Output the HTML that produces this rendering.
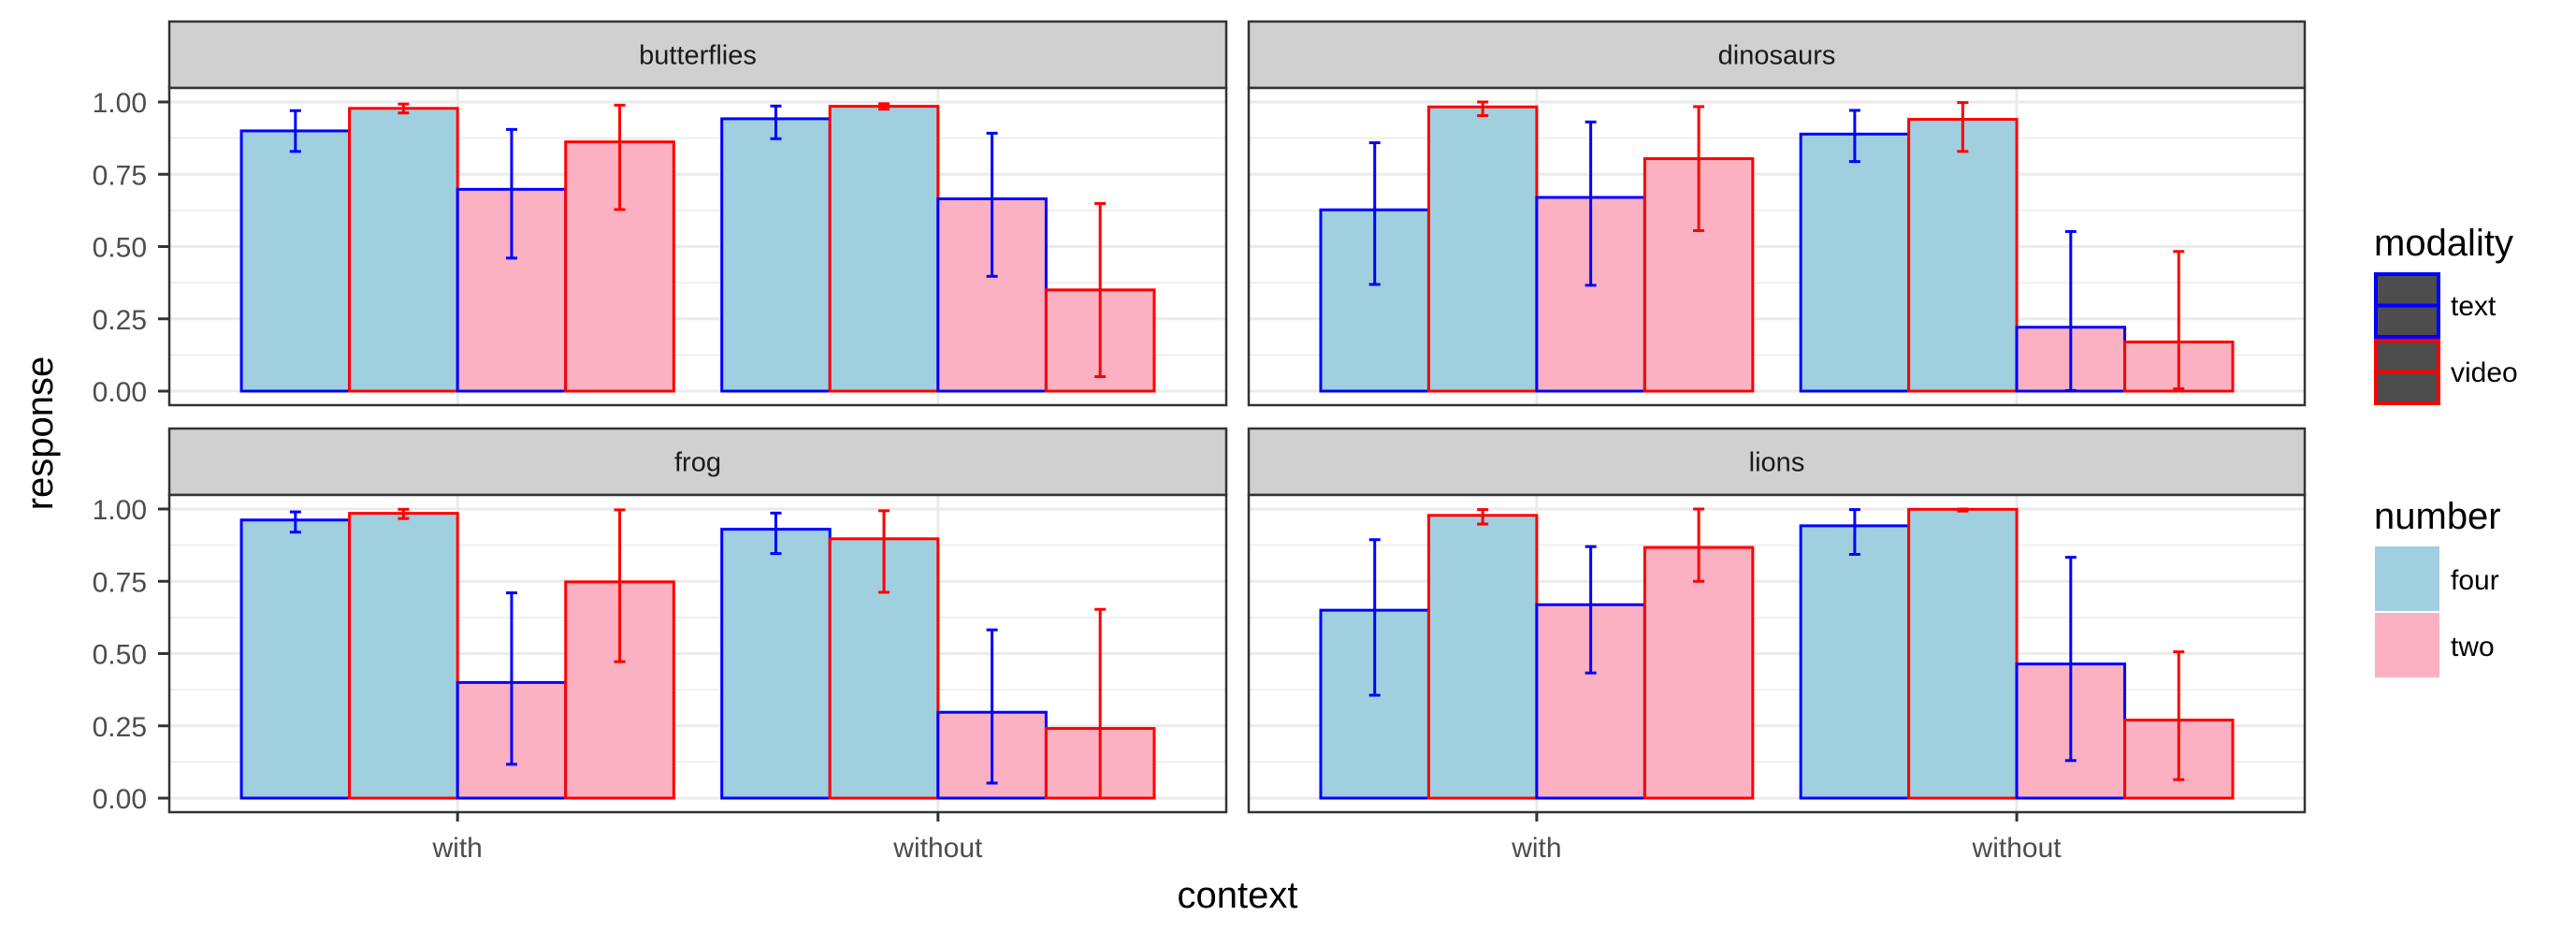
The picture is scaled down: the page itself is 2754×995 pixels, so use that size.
<!DOCTYPE html>
<html><head><meta charset="utf-8"><style>
html,body{margin:0;padding:0;background:#fff;}
svg{display:block;font-family:"Liberation Sans",sans-serif;}
</style></head><body>
<svg id="chart" width="2754" height="995" viewBox="0 0 2754 995" xmlns="http://www.w3.org/2000/svg"></svg>
<script>
const panels = ["butterflies","dinosaurs","frog","lions"];
const contexts = ["with","without"];
const barGroups = ["four-text","four-video","two-text","two-video"];
const barFill = ["four","four","two","two"];
const barColor = ["text","video","text","video"];
// values per panel: [with x4, without x4]
const butterfliesVals = [0.90,0.978,0.698,0.862, 0.942,0.985,0.665,0.35];
const butterfliesLo   = [0.829,0.962,0.46,0.628, 0.873,0.975,0.397,0.05];
const butterfliesHi   = [0.97,0.993,0.905,0.989, 0.986,0.994,0.892,0.649];
const dinosaursVals = [0.627,0.983,0.670,0.804, 0.889,0.940,0.221,0.170];
const dinosaursLo   = [0.369,0.953,0.366,0.555, 0.794,0.829,0.002,0.008];
const dinosaursHi   = [0.859,1.0,0.931,0.984, 0.971,0.998,0.552,0.483];
const frogVals = [0.962,0.985,0.40,0.748, 0.930,0.897,0.297,0.241];
const frogLo   = [0.920,0.967,0.117,0.472, 0.846,0.712,0.052,0.0];
const frogHi   = [0.990,0.999,0.710,0.997, 0.986,0.994,0.582,0.653];
const lionsVals = [0.650,0.978,0.669,0.867, 0.942,0.999,0.464,0.270];
const lionsLo   = [0.356,0.948,0.433,0.750, 0.843,0.993,0.130,0.064];
const lionsHi   = [0.894,0.998,0.870,1.0, 0.998,1.0,0.833,0.506];
const yTicks = [0,0.25,0.5,0.75,1.0];
const yTickLabels = ["0.00","0.25","0.50","0.75","1.00"];

const allVals = {butterflies:butterfliesVals,dinosaurs:dinosaursVals,frog:frogVals,lions:lionsVals};
const allLo = {butterflies:butterfliesLo,dinosaurs:dinosaursLo,frog:frogLo,lions:lionsLo};
const allHi = {butterflies:butterfliesHi,dinosaurs:dinosaursHi,frog:frogHi,lions:lionsHi};

const NS="http://www.w3.org/2000/svg";
const svg=document.getElementById('chart');
function mk(tag,attrs,parent){const e=document.createElementNS(NS,tag);for(const k in attrs)e.setAttribute(k,attrs[k]);(parent||svg).appendChild(e);return e;}
const FILL={four:"#A0CFE0",two:"#FBB1C1"};
const COL={text:"#0000FF",video:"#FF0000"};
const layout=[{x0:181,x1:1311,top:23,row:0},{x0:1335,x1:2464,top:23,row:0},{x0:181,x1:1311,top:458,row:1},{x0:1335,x1:2464,top:458,row:1}];
const stripH=71, panelH=339;

panels.forEach((name,pi)=>{
  const L=layout[pi];
  const pTop=L.top+stripH, pBot=pTop+panelH;
  const y0=pBot-15, y1=pTop+15;
  const yS=v=>y0-(y0-y1)*v;
  const unit=(L.x1-L.x0)/2.2;
  const xS=i=>L.x0+unit*(0.6+i); // group centre
  const g=mk('g',{});
  
  
  // strip
  const s=mk('rect',{x:L.x0,y:L.top,width:L.x1-L.x0,height:stripH,fill:"#D0D0D0",stroke:"#333",'stroke-width':2.5},g);
  
  
  const st=mk('text',{x:(L.x0+L.x1)/2,y:L.top+stripH/2+10,'text-anchor':'middle','font-size':29,fill:'#1A1A1A'},g);
  st.textContent=name;
  
  
  mk('rect',{x:L.x0,y:pTop,width:L.x1-L.x0,height:panelH,fill:"#fff"},g);
  // grid
  for(let k=0;k<4;k++){const v=0.125+0.25*k;mk('line',{x1:L.x0,x2:L.x1,y1:yS(v),y2:yS(v),stroke:"#EBEBEB",'stroke-width':1.5},g);}
  yTicks.forEach(v=>mk('line',{x1:L.x0,x2:L.x1,y1:yS(v),y2:yS(v),stroke:"#EBEBEB",'stroke-width':3},g));
  contexts.forEach((c,ci)=>mk('line',{x1:xS(ci),x2:xS(ci),y1:pTop,y2:pBot,stroke:"#EBEBEB",'stroke-width':3},g));
  // bars
  const vals=allVals[name],lo=allLo[name],hi=allHi[name];
  const bw=unit*0.225;
  contexts.forEach((c,ci)=>{
    barGroups.forEach((b,bi)=>{
      const idx=ci*4+bi;
      const bx=xS(ci)-2*bw+bi*bw;
      const r=mk('rect',{x:bx,y:yS(vals[idx]),width:bw,height:yS(0)-yS(vals[idx]),fill:FILL[barFill[bi]],stroke:COL[barColor[bi]],'stroke-width':3},g);
      
      
    });
  });
  contexts.forEach((c,ci)=>{
    barGroups.forEach((b,bi)=>{
      const idx=ci*4+bi;
      const cx=xS(ci)-2*bw+bi*bw+bw/2;
      const e=mk('g',{stroke:COL[barColor[bi]],'stroke-width':3},g);
      
      
      mk('line',{x1:cx,x2:cx,y1:yS(lo[idx]),y2:yS(hi[idx])},e);
      mk('line',{x1:cx-6,x2:cx+6,y1:yS(lo[idx]),y2:yS(lo[idx])},e);
      mk('line',{x1:cx-6,x2:cx+6,y1:yS(hi[idx]),y2:yS(hi[idx])},e);
    });
  });
  mk('rect',{x:L.x0,y:pTop,width:L.x1-L.x0,height:panelH,fill:"none",stroke:"#333",'stroke-width':2.5},g);
  // y axis on left panels
  if(pi%2===0){
    yTicks.forEach((v,ti)=>{
      mk('line',{x1:169,x2:L.x0,y1:yS(v),y2:yS(v),stroke:"#333",'stroke-width':3},g);
      const t=mk('text',{x:157,y:yS(v)+11,'text-anchor':'end','font-size':30,fill:'#4D4D4D'},g);
      t.textContent=yTickLabels[ti];
      
      
    });
  }
  if(L.row===1){
    contexts.forEach((c,ci)=>{
      mk('line',{x1:xS(ci),x2:xS(ci),y1:pBot,y2:pBot+10,stroke:"#333",'stroke-width':3},g);
      const t=mk('text',{x:xS(ci),y:pBot+48,'text-anchor':'middle','font-size':30,fill:'#4D4D4D'},g);
      t.textContent=c;
      
      
    });
  }
});
// axis titles
const yt=mk('text',{x:0,y:0,'text-anchor':'middle','font-size':40,fill:'#000',transform:'translate(56,463) rotate(-90)'});
yt.textContent='response';


const xt=mk('text',{x:1323,y:970,'text-anchor':'middle','font-size':40,fill:'#000'});
xt.textContent='context';


// legends
const legModal=["text","video"];
const lg1=mk('g',{});


const lt1=mk('text',{x:2538,y:273,'font-size':40,fill:'#000'},lg1);lt1.textContent='modality';
legModal.forEach((m,i)=>{
  const ky=293+i*71;
  mk('rect',{x:2540,y:ky,width:67,height:67,fill:'#4D4D4D',stroke:COL[m],'stroke-width':4},lg1);
  mk('line',{x1:2540,x2:2607,y1:ky+33.5,y2:ky+33.5,stroke:COL[m],'stroke-width':4},lg1);
  const t=mk('text',{x:2620,y:ky+44,'font-size':30,fill:'#000'},lg1);t.textContent=m;
  
  
});
const legNum=["four","two"];
const lg2=mk('g',{});


const lt2=mk('text',{x:2538,y:565,'font-size':40,fill:'#000'},lg2);lt2.textContent='number';
legNum.forEach((m,i)=>{
  const ky=584+i*71;
  mk('rect',{x:2539,y:ky,width:69,height:69,fill:FILL[m]},lg2);
  const t=mk('text',{x:2620,y:ky+46,'font-size':30,fill:'#000'},lg2);t.textContent=m;
  
  
});
</script>
</body></html>
